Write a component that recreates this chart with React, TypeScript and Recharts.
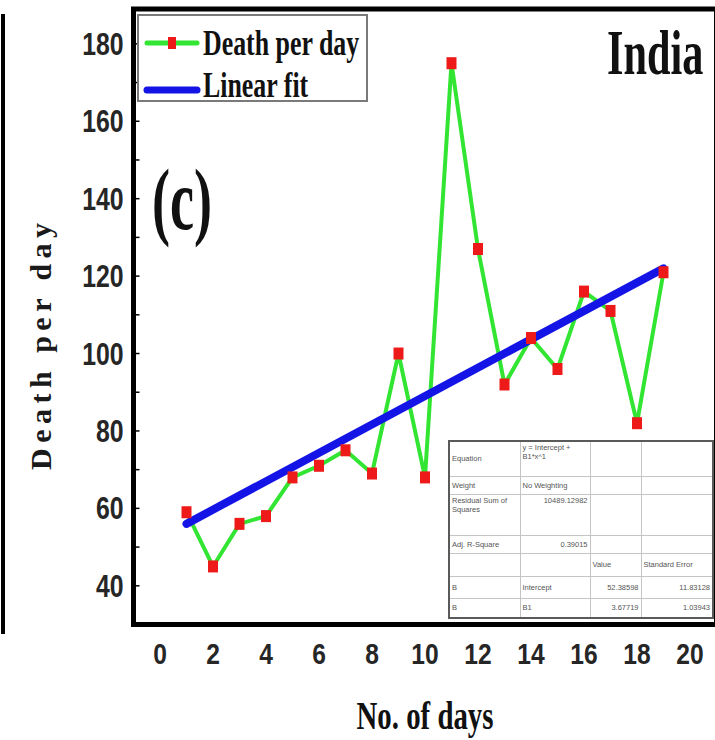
import React from "react";
import {
  ComposedChart,
  Line,
  XAxis,
  YAxis,
  ReferenceArea,
  Legend,
  Label,
} from "recharts";

// values (India)
const days = [1, 2, 3, 4, 5, 6, 7, 8, 9, 10, 11, 12, 13, 14, 15, 16, 17, 18, 19];
const deathsPerDay = [59, 45, 56, 58, 68, 71, 75, 69, 100, 68, 175, 127, 92, 104, 96, 116, 111, 82, 121];
// end points of the fitted straight line
const fitDays = [1, 19];
const fitValues = [56, 122];

const xTicks = [0, 2, 4, 6, 8, 10, 12, 14, 16, 18, 20];
const yTickLabels = [40, 60, 80, 100, 120, 140, 160, 180];
const yTicks = [40, 50, 60, 70, 80, 90, 100, 110, 120, 130, 140, 150, 160, 170, 180];

// fit table from the inset
const fitTableRows = [
  ["Equation", "y = Intercept + B1*x^1", "", ""],
  ["Weight", "No Weighting", "", ""],
  ["Residual Sum of Squares", "10489.12982", "", ""],
  ["Adj. R-Square", "0.39015", "", ""],
  ["", "", "Value", "Standard Error"],
  ["B", "Intercept", "52.38598", "11.83128"],
  ["B", "B1", "3.67719", "1.03943"],
];

const chartData = days.map((d, i) => {
  const k = fitDays.indexOf(d);
  return { day: d, deaths: deathsPerDay[i], fit: k >= 0 ? fitValues[k] : null };
});

const SERIF = '"Liberation Serif", "Times New Roman", serif';
const SANS = '"Liberation Sans", Arial, sans-serif';
const GREEN = "#33e533";
const RED = "#ee1a1a";
const BLUE = "#1414e6";

const YTick = (props: any) => {
  const { x, y, payload } = props;
  if (!yTickLabels.includes(payload.value)) return <g />;
  return (
    <text
      transform={`translate(${x},${y}) scale(0.8,1)`}
      textAnchor="end"
      dy={11}
      fontFamily={SANS}
      fontWeight="bold"
      fontSize={31}
      fill="#262626"
    >
      {payload.value}
    </text>
  );
};

const XTick = (props: any) => {
  const { x, y, payload } = props;
  return (
    <text
      transform={`translate(${x},${y + 39.5}) scale(0.82,1)`}
      textAnchor="middle"
      fontFamily={SANS}
      fontWeight="bold"
      fontSize={30}
      fill="#262626"
    >
      {payload.value}
    </text>
  );
};

const SquareDot = (props: any) => {
  const { cx, cy, index } = props;
  if (cx == null || cy == null) return null;
  return <rect key={index} x={cx - 5} y={cy - 6} width={10} height={12} fill={RED} />;
};

// condensed serif text, squeezed horizontally like the source figure
const Squeezed = ({ x, y, sx, size, anchor = "start", children }: any) => (
  <text
    transform={`translate(${x},${y}) scale(${sx},1)`}
    textAnchor={anchor}
    fontFamily={SERIF}
    fontWeight="bold"
    fontSize={size}
    fill="#111"
  >
    {children}
  </text>
);

const renderLegend = (props: any) => {
  const { payload = [] } = props;
  return (
    <svg width={232} height={96} style={{ overflow: "visible" }}>
      <rect x={1} y={1} width={229} height={86} fill="#fff" stroke="#7a7a7a" strokeWidth={2} />
      {payload.map((entry: any, i: number) => {
        const ly = i === 0 ? 29 : 76;
        const ty = i === 0 ? 41 : 83;
        return (
          <g key={entry.value}>
            <line
              x1={10}
              x2={60}
              y1={ly}
              y2={ly}
              stroke={entry.color}
              strokeWidth={i === 0 ? 5 : 7}
              strokeLinecap="round"
            />
            {i === 0 && <rect x={31} y={ly - 6} width={8} height={12} fill={RED} />}
            <Squeezed x={66} y={ty} sx={0.74} size={35}>
              {entry.value}
            </Squeezed>
          </g>
        );
      })}
    </svg>
  );
};

const colWidths = [71, 70, 51, 72];
const rowHeights = [35, 18, 41, 18, 23, 22, 20];

function FitTable() {
  return (
    <table
      style={{
        position: "absolute",
        left: 448,
        top: 440,
        width: 264,
        borderCollapse: "collapse",
        tableLayout: "fixed",
        border: "2px solid #5a5a5a",
        background: "#fff",
        fontFamily: SANS,
        fontSize: 7.5,
        color: "#555",
        lineHeight: "9px",
      }}
    >
      <colgroup>
        {colWidths.map((w, i) => (
          <col key={i} style={{ width: w }} />
        ))}
      </colgroup>
      <tbody>
        {fitTableRows.map((row, r) => (
          <tr key={r} style={{ height: rowHeights[r] }}>
            {row.map((cell, c) => {
              const numeric = /^[0-9.]+$/.test(cell);
              return (
                <td
                  key={c}
                  style={{
                    border: "1px solid #c4c4c4",
                    padding: "1px 2px",
                    verticalAlign: r === 0 && c === 0 ? "middle" : r === 2 || r === 0 ? "top" : "middle",
                    textAlign: numeric ? "right" : "left",
                    overflow: "hidden",
                  }}
                >
                  {cell}
                </td>
              );
            })}
          </tr>
        ))}
      </tbody>
    </table>
  );
}

export default function App() {
  return (
    <div
      style={{
        position: "absolute",
        left: 0,
        top: 0,
        width: 715,
        height: 740,
        overflow: "hidden",
        background: "#fff",
      }}
    >
      {/* edge of the neighbouring panel */}
      <div style={{ position: "absolute", left: 1, top: 14, width: 4, height: 620, background: "#000" }} />

      <ComposedChart
        width={720}
        height={740}
        data={chartData}
        margin={{ top: 9, right: 3.5, bottom: 0, left: 0 }}
      >
        <ReferenceArea
          x1={-1}
          x2={21}
          y1={30}
          y2={189}
          fill="none"
          fillOpacity={0}
          stroke="#000"
          strokeWidth={5}
          ifOverflow="visible"
        />
        <XAxis
          dataKey="day"
          type="number"
          domain={[-1, 21]}
          ticks={xTicks}
          height={115.5}
          tickSize={0}
          tickMargin={0}
          tickLine={false}
          axisLine={false}
          tick={<XTick />}
          interval={0}
        >
          <Label content={() => <Squeezed x={425} y={729} sx={0.74} size={39} anchor="middle">No. of days</Squeezed>} />
        </XAxis>
        <YAxis
          type="number"
          domain={[30, 189]}
          ticks={yTicks}
          width={133.5}
          tickSize={-6}
          tickMargin={16}
          tickLine={{ stroke: "#000", strokeWidth: 1.5 }}
          axisLine={false}
          tick={<YTick />}
          interval={0}
        >
          <Label
            content={() => (
              <text
                transform="translate(51,470) rotate(-90)"
                x={0}
                y={0}
                fontFamily={SERIF}
                fontWeight="bold"
                fontSize={30}
                fill="#1a1a1a"
                letterSpacing={5.5}
              >
                Death per day
              </text>
            )}
          />
        </YAxis>
        <Legend
          layout="vertical"
          align="center"
          verticalAlign="middle"
          content={renderLegend}
          wrapperStyle={{ left: 137, top: 14, width: 232, height: 96 }}
        />
        <Line
          type="linear"
          dataKey="deaths"
          name="Death per day"
          stroke={GREEN}
          strokeWidth={4}
          dot={<SquareDot />}
          activeDot={false}
          isAnimationActive={false}
        />
        <Line
          type="linear"
          dataKey="fit"
          name="Linear fit"
          stroke={BLUE}
          strokeWidth={8}
          strokeLinecap="round"
          connectNulls
          dot={false}
          activeDot={false}
          isAnimationActive={false}
        />
      </ComposedChart>

      {/* panel annotations */}
      <svg width={715} height={740} style={{ position: "absolute", left: 0, top: 0, pointerEvents: "none" }}>
        <Squeezed x={607} y={74} sx={0.66} size={64}>
          India
        </Squeezed>
        <Squeezed x={152} y={229} sx={0.63} size={86}>
          (c)
        </Squeezed>
      </svg>

      <FitTable />
    </div>
  );
}
